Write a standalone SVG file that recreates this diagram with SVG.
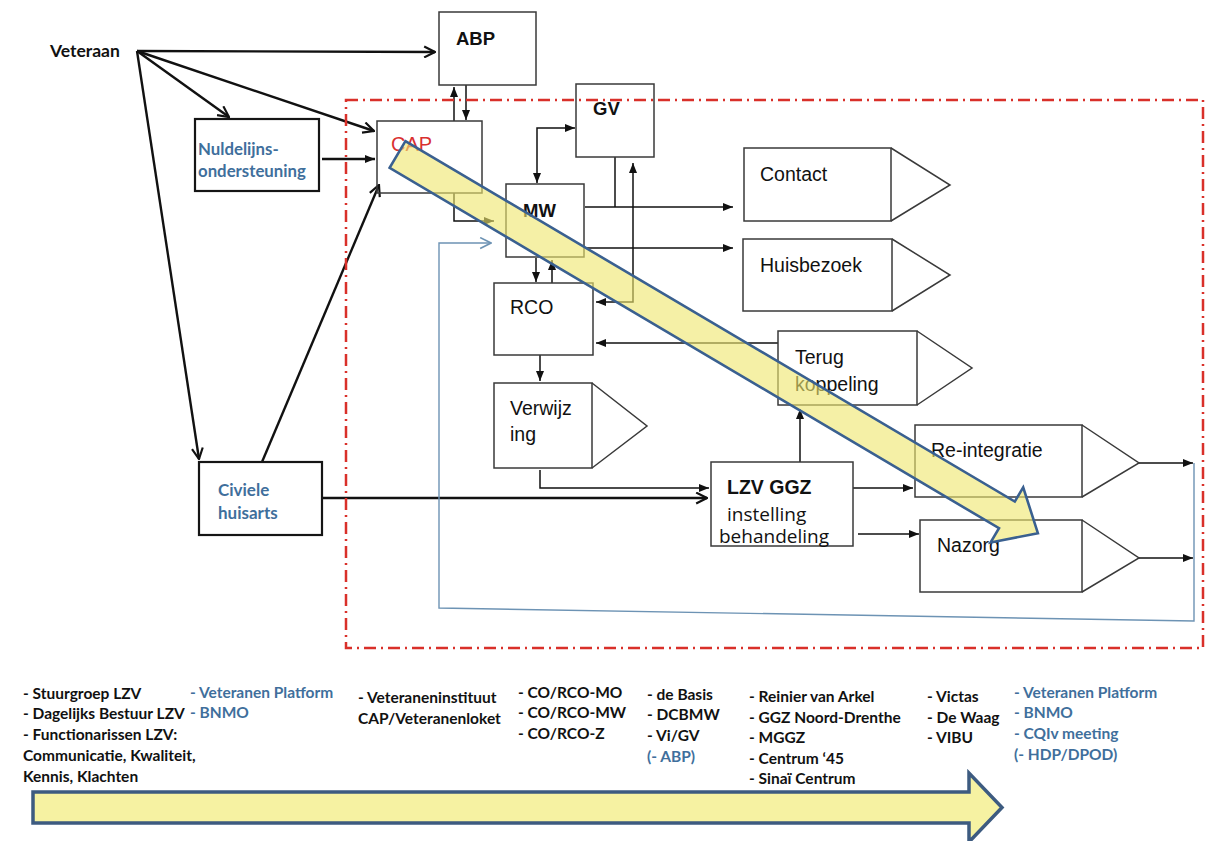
<svg xmlns="http://www.w3.org/2000/svg" width="1208" height="841" viewBox="0 0 1208 841">
<style>
.box{fill:none;stroke:#3a3a3a;stroke-width:1.5}
.boxL{fill:none;stroke:#151515;stroke-width:2.2}
.ln{fill:none;stroke:#111;stroke-width:1.5}
.lt{fill:none;stroke:#111;stroke-width:2.4}
.ar{font-family:"Liberation Sans",Arial,sans-serif;font-size:19.5px;fill:#111}
.b{font-weight:bold}
.cal{font-family:Lato,"Open Sans",sans-serif;font-weight:bold;font-size:15.5px;fill:#111}
.big{font-size:17px}
.os{font-family:"Open Sans",Lato,sans-serif;font-size:19px;fill:#111}
.blue{fill:#3f6f9c}
</style>
<defs>
<marker id="fa" viewBox="0 0 10 8" refX="10" refY="4" markerWidth="10" markerHeight="8" markerUnits="userSpaceOnUse" orient="auto-start-reverse"><path d="M0,0 L10,4 L0,8 z" fill="#111"/></marker>
<marker id="oa" viewBox="0 0 12 12" refX="11" refY="6" markerWidth="13" markerHeight="13" markerUnits="userSpaceOnUse" orient="auto"><path d="M1,1 L11,6 L1,11" fill="none" stroke="#111" stroke-width="2"/></marker>
<marker id="ob" viewBox="0 0 12 12" refX="11" refY="6" markerWidth="13" markerHeight="13" markerUnits="userSpaceOnUse" orient="auto"><path d="M1,1 L11,6 L1,11" fill="none" stroke="#6d93b4" stroke-width="1.5"/></marker>
</defs>
<rect width="1208" height="841" fill="#fff"/>

<g id="connectors">
<path class="lt" d="M137,51 L435,52" marker-end="url(#oa)"/>
<path class="lt" d="M137,51 L229,117" marker-end="url(#oa)"/>
<path class="lt" d="M137,51 L374,131" marker-end="url(#oa)"/>
<path class="lt" d="M137,51 L199,459" marker-end="url(#oa)"/>
<path class="lt" d="M262,462 L379,185" marker-end="url(#oa)"/>
<path class="lt" d="M322,159 L375,159" marker-end="url(#fa)"/>
<path class="lt" d="M323,498 L707,498" marker-end="url(#oa)"/>
<path class="ln" d="M540,470 L540,488 L709,488" marker-end="url(#fa)"/>
<path class="ln" d="M454,121 L454,87" marker-end="url(#fa)"/>
<path class="ln" d="M466,85 L466,120" marker-end="url(#fa)"/>
<path class="ln" d="M454,193 L454,221 L494,221" marker-end="url(#fa)"/>
<path class="ln" d="M537,183 L537,128 L575,128" marker-start="url(#fa)" marker-end="url(#fa)"/>
<path class="ln" d="M615,157 L615,207"/>
<path class="ln" d="M585,207 L733,207" marker-end="url(#fa)"/>
<path class="ln" d="M585,248 L733,248" marker-end="url(#fa)"/>
<path class="ln" d="M596,302 L633,302 L633,163" marker-start="url(#fa)" marker-end="url(#fa)"/>
<path class="ln" d="M536,258 L536,282" marker-end="url(#fa)"/>
<path class="ln" d="M552,283 L552,260" marker-end="url(#fa)"/>
<path class="ln" d="M778,343 L596,343" marker-end="url(#fa)"/>
<path class="ln" d="M540,355 L540,381" marker-end="url(#fa)"/>
<path class="ln" d="M800,462 L800,409" marker-end="url(#fa)"/>
<path class="ln" d="M853,488 L913,488" marker-end="url(#fa)"/>
<path class="ln" d="M858,534 L919,534" marker-end="url(#fa)"/>
<path class="ln" d="M1139,463 L1193,463" marker-end="url(#fa)"/>
<path class="ln" d="M1139,558 L1193,558" marker-end="url(#fa)"/>
<path d="M1194,463 L1194,621 L439,608 L439,243 L491,243" fill="none" stroke="#6d93b4" stroke-width="1.4" marker-end="url(#ob)"/>
</g>

<g id="veteraan"><text class="cal" x="50" y="57" style="font-size:17.5px">Veteraan</text></g>

<g id="nuldelijns"><rect class="boxL" x="195" y="119" width="124" height="72"/>
<text class="cal blue" x="198" y="155" style="font-size:16.8px">Nuldelijns-</text><text class="cal blue" x="198" y="177" style="font-size:16.8px">ondersteuning</text></g>

<g id="civiele"><rect class="boxL" x="199" y="462" width="123" height="73"/>
<text class="cal blue" x="218" y="496" style="font-size:17px">Civiele</text><text class="cal blue" x="218" y="519" style="font-size:17px">huisarts</text></g>

<g id="abp"><rect class="box" x="439" y="12" width="97" height="73"/><text class="ar b" x="456" y="45" style="font-size:18.5px">ABP</text></g>
<g id="cap"><rect class="box" x="377" y="121" width="105" height="72"/><text class="ar" x="391" y="151" style="fill:#d93030;font-size:20px">CAP</text></g>
<g id="gv"><rect class="box" x="576" y="84" width="78" height="73"/><text class="ar b" x="593" y="115" style="font-size:18.5px">GV</text></g>
<g id="mw"><rect class="box" x="506" y="184" width="78" height="73"/><text class="ar b" x="523" y="217" style="font-size:18.5px">MW</text></g>
<g id="rco"><rect class="box" x="494" y="283" width="99" height="72"/><text class="ar" x="510" y="314">RCO</text></g>

<g id="contact"><rect class="box" x="744" y="148" width="147" height="73"/><path class="box" d="M891,148 L950,185 L891,221"/><text class="ar" x="760" y="181">Contact</text></g>
<g id="huisbezoek"><rect class="box" x="743" y="239" width="149" height="72"/><path class="box" d="M892,239 L950,275 L892,311"/><text class="ar" x="760" y="272">Huisbezoek</text></g>
<g id="terug"><rect class="box" x="778" y="331" width="139" height="74"/><path class="box" d="M917,331 L972,368 L917,405"/><text class="ar" x="795" y="364">Terug</text><text class="ar" x="795" y="391">koppeling</text></g>
<g id="verwijzing"><rect class="box" x="494" y="383" width="98" height="85"/><path class="box" d="M592,383 L647,426 L592,468"/><text class="ar" x="510" y="415">Verwijz</text><text class="ar" x="510" y="441">ing</text></g>
<g id="lzv"><rect class="box" x="711" y="462" width="142" height="84"/><text class="ar b" x="727" y="494">LZV GGZ</text>
<text class="os" x="727" y="521">instelling</text>
<text class="os" x="719" y="543">behandeling</text></g>
<g id="reintegratie"><rect class="box" x="915" y="425" width="167" height="72"/><path class="box" d="M1082,425 L1139,463 L1082,497"/><text class="ar" x="931" y="457">Re-integratie</text></g>
<g id="nazorg"><rect class="box" x="920" y="520" width="162" height="72"/><path class="box" d="M1082,520 L1139,558 L1082,592"/><text class="ar" x="937" y="552">Nazorg</text></g>

<rect x="346" y="100" width="857" height="548" fill="none" stroke="#d9302a" stroke-width="2.5" stroke-dasharray="12 5 2 5"/>

<g id="diag-arrow" transform="translate(397.5,154.5) rotate(30.6)">
<polygon points="0,-15.5 708,-15.5 708,-32 744,0 708,32 708,15.5 0,15.5" fill="#efe770" fill-opacity="0.62" stroke="#3a6090" stroke-width="2.6" stroke-linejoin="miter"/>
</g>

<g id="bottom-arrow">
<polygon points="33,792 969,792 969,773 1002,807.5 969,842 969,823 33,823" fill="#f6f2a2" stroke="#3d5b80" stroke-width="3.5"/>
</g>

<g id="legend">
<text class="cal" x="23" y="699">- Stuurgroep LZV</text>
<text class="cal" x="23" y="719">- Dagelijks Bestuur LZV</text>
<text class="cal" x="23" y="740">- Functionarissen LZV:</text>
<text class="cal" x="23" y="761">Communicatie, Kwaliteit,</text>
<text class="cal" x="23" y="782">Kennis, Klachten</text>
<text class="cal blue" x="190" y="698">- Veteranen Platform</text>
<text class="cal blue" x="190" y="718">- BNMO</text>
<text class="cal" x="358" y="703">- Veteraneninstituut</text>
<text class="cal" x="358" y="724">CAP/Veteranenloket</text>
<text class="cal" x="518" y="698">- CO/RCO-MO</text>
<text class="cal" x="518" y="718">- CO/RCO-MW</text>
<text class="cal" x="518" y="739">- CO/RCO-Z</text>
<text class="cal" x="647" y="700">- de Basis</text>
<text class="cal" x="647" y="720">- DCBMW</text>
<text class="cal" x="647" y="741">- Vi/GV</text>
<text class="cal blue" x="647" y="762">(- ABP)</text>
<text class="cal" x="749" y="702">- Reinier van Arkel</text>
<text class="cal" x="749" y="723">- GGZ Noord-Drenthe</text>
<text class="cal" x="749" y="743">- MGGZ</text>
<text class="cal" x="749" y="764">- Centrum ‘45</text>
<text class="cal" x="749" y="784">- Sinaï Centrum</text>
<text class="cal" x="927" y="702">- Victas</text>
<text class="cal" x="927" y="723">- De Waag</text>
<text class="cal" x="927" y="743">- VIBU</text>
<text class="cal blue" x="1014" y="698">- Veteranen Platform</text>
<text class="cal blue" x="1014" y="718">- BNMO</text>
<text class="cal blue" x="1014" y="739">- CQIv meeting</text>
<text class="cal blue" x="1014" y="760">(- HDP/DPOD)</text>
</g>
</svg>
